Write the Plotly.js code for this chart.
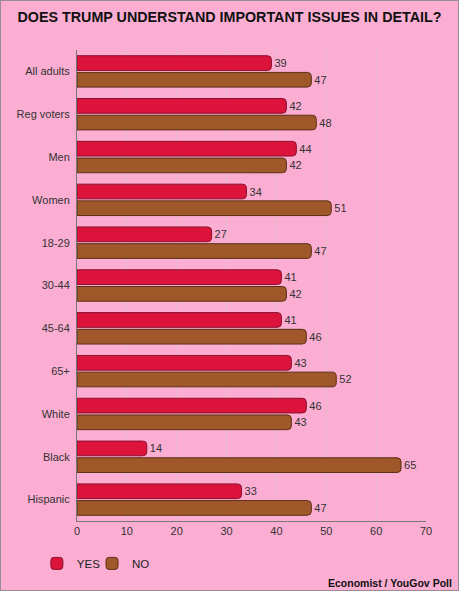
<!DOCTYPE html>
<html>
<head>
<meta charset="utf-8">
<script src="https://cdn.plot.ly/plotly-3.0.1.min.js"></script>
<style>
html,body{margin:0;padding:0;background:#FBAED2;}
#chart{width:459px;height:591px;box-sizing:border-box;border:1px solid #9a8a92;}
</style>
</head>
<body>
<div id="chart"></div>
<script>
const categories = ["All adults","Reg voters","Men","Women","18-29","30-44","45-64","65+","White","Black","Hispanic"];
const yesValues = [39,42,44,34,27,41,41,43,46,14,33];
const noValues  = [47,48,42,51,47,42,46,52,43,65,47];
const xTicks = [0,10,20,30,40,50,60,70];

const yes = {
  type:'bar', orientation:'h', name:'YES', legend:'legend',
  y: categories, x: yesValues,
  text: yesValues.map(String), textposition:'outside', cliponaxis:false,
  textfont:{size:11,color:'#333'},
  marker:{color:'#DC143C', line:{color:'#8a1030',width:1}, cornerradius:4}
};
const no = {
  type:'bar', orientation:'h', name:'NO', legend:'legend2',
  y: categories, x: noValues,
  text: noValues.map(String), textposition:'outside', cliponaxis:false,
  textfont:{size:11,color:'#333'},
  marker:{color:'#A0582A', line:{color:'#5a3015',width:1}, cornerradius:4}
};

const legendBase = {orientation:'h', y:-0.09, xanchor:'left', yanchor:'middle', font:{size:11.5,color:'#222'}, bgcolor:'rgba(0,0,0,0)'};

const layout = {
  width:457, height:589,
  paper_bgcolor:'#FBAED2', plot_bgcolor:'#FBAED2',
  font:{family:'Liberation Sans, Arial, sans-serif', size:11, color:'#333'},
  margin:{l:76, r:32, t:49, b:65},
  title:{text:'<b>DOES TRUMP UNDERSTAND IMPORTANT ISSUES IN DETAIL?</b>', font:{size:14.3,color:'#111'}, x:0.5, xanchor:'center', y:0.972, yanchor:'middle'},
  barmode:'group', bargap:0.22, bargroupgap:0.12,
  xaxis:{range:[0,70], tickvals:xTicks, ticktext:xTicks.map(String), showgrid:true, gridcolor:'#e8bcd0', gridwidth:1,
         zeroline:false, showline:true, linecolor:'#777', linewidth:1, ticks:'', ticklen:0,
         tickfont:{size:11,color:'#333'}, fixedrange:true},
  yaxis:{type:'category', autorange:'reversed', showgrid:false, zeroline:false, showline:true, linecolor:'#777', linewidth:1,
         ticks:'outside', ticklen:4, tickcolor:'rgba(0,0,0,0)', tickfont:{size:11,color:'#333'}, automargin:false},
  legend: Object.assign({}, legendBase, {x:-0.115}),
  legend2: Object.assign({}, legendBase, {x:0.043}),
  showlegend:true,
  annotations:[{xref:'paper', yref:'paper', x:1.08, y:-0.132, xanchor:'right', yanchor:'middle', showarrow:false,
    text:'<b>Economist / YouGov Poll</b>', font:{size:10.5,color:'#111'}}]
};

Plotly.newPlot('chart',[yes,no],layout,{displayModeBar:false,staticPlot:true});
</script>
</body>
</html>
